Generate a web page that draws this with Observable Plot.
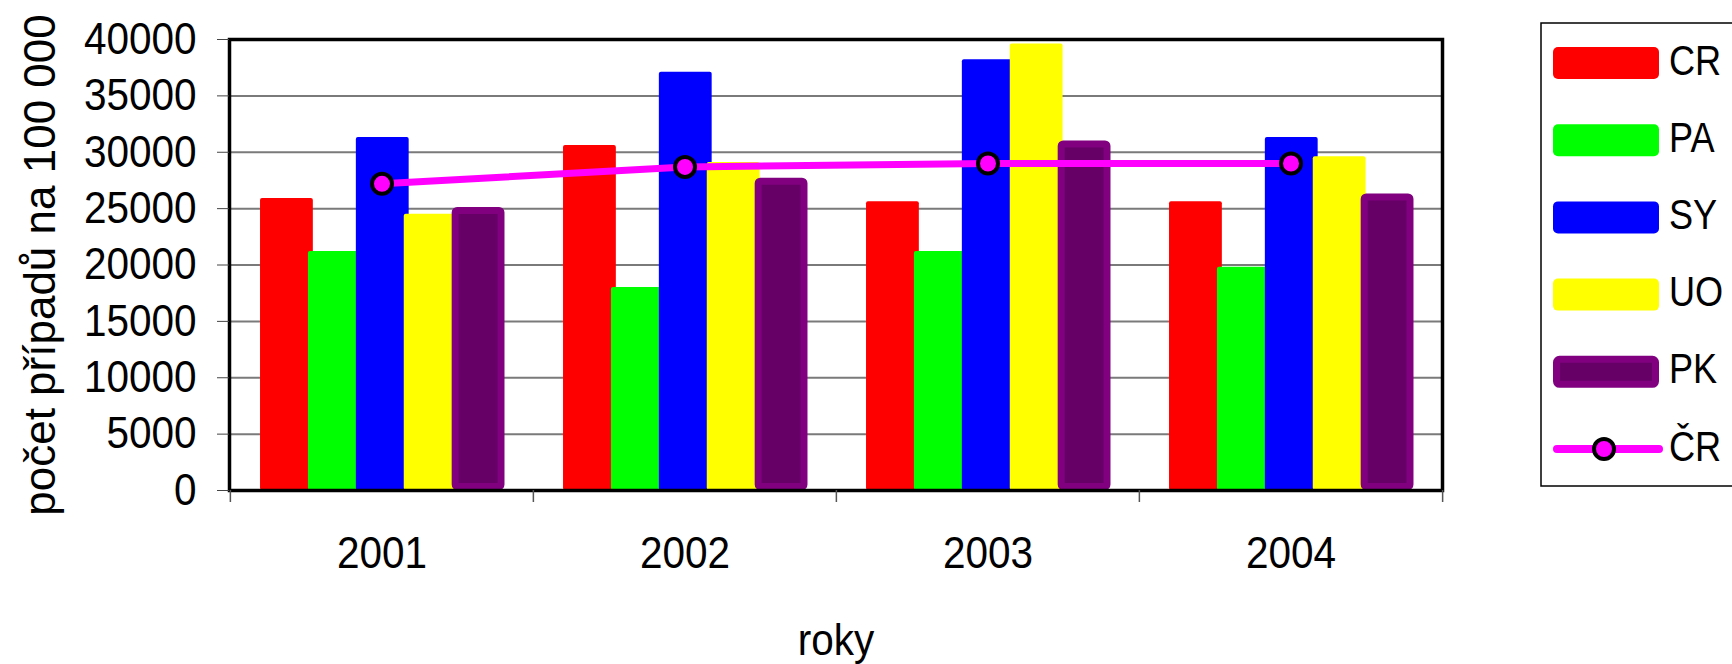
<!DOCTYPE html>
<html>
<head>
<meta charset="utf-8">
<script src="https://cdn.jsdelivr.net/npm/d3@7"></script>
<script src="https://cdn.jsdelivr.net/npm/@observablehq/plot@0.6"></script>
<style>
  html, body { margin: 0; padding: 0; background: #fff; }
  #wrap { position: relative; width: 1732px; height: 664px; overflow: hidden;
          font-family: "Liberation Sans", Arial, sans-serif; }
</style>
</head>
<body>
<div id="wrap"></div>
<script>
// ---- data ----
const years = ["2001", "2002", "2003", "2004"];
const seriesNames = ["CR", "PA", "SY", "UO", "PK"];
const CR = [25900, 30600, 25600, 25600];
const PA = [21200, 18000, 21200, 19800];
const SY = [31300, 37100, 38200, 31300];
const UO = [24500, 29100, 39600, 29600];
const PK = [25100, 27700, 31000, 26300];
const lineName = "ČR";
const CZ = [27200, 28700, 29000, 29000];
const yTicks = [0, 5000, 10000, 15000, 20000, 25000, 30000, 35000, 40000];
const yTitle = "počet případů na 100 000";
const xTitle = "roky";

// ---- styles ----
const colors = {CR: "#FF0000", PA: "#00FF00", SY: "#0000FF", UO: "#FFFF00", PK: "#660066"};
const pkStroke = "#800080";
const lineColor = "#FF00FF";

const seriesValues = {CR, PA, SY, UO, PK};
const rows = years.map((year, i) => {
  const r = {year, CZ: CZ[i]};
  for (const s of seriesNames) r[s] = seriesValues[s][i];
  return r;
});

const W = 1732, H = 664;
const mL = 229, mR = 290, mT = 39, mB = 174;
const bw = (W - mL - mR) / years.length;

const barMarks = seriesNames.map((name, k) => {
  const left = bw * 0.099 + k * bw * 0.158;
  const w = bw * 0.175;
  const isPK = name === "PK";
  const s = isPK ? 3.5 : 0;
  return Plot.barY(rows, {
    x: "year", y: name,
    fill: colors[name],
    stroke: isPK ? pkStroke : "none",
    strokeWidth: isPK ? 7 : 0,
    insetLeft: left + s,
    insetRight: bw - left - w + s,
    insetTop: s, insetBottom: s,
    rx: 2
  });
});

const plot = Plot.plot({
  width: W, height: H,
  marginLeft: mL, marginRight: mR, marginTop: mT, marginBottom: mB,
  style: {fontFamily: "'Liberation Sans', Arial, sans-serif", fontSize: "42px", color: "black", background: "white", overflow: "visible"},
  x: {type: "band", domain: years, padding: 0, label: null},
  y: {domain: [0, 40000], label: null},
  marks: [
    Plot.ruleY(yTicks.filter(t => t > 0 && t < 40000), {stroke: "#7a7a7a", strokeWidth: 2}),
    ...barMarks,
    Plot.line(rows, {x: "year", y: "CZ", stroke: lineColor, strokeWidth: 7}),
    Plot.dot(rows, {x: "year", y: "CZ", r: 10, fill: lineColor, stroke: "black", strokeWidth: 4}),
    Plot.frame({stroke: "black", strokeWidth: 3.5}),
    Plot.axisY({ticks: yTicks, tickSize: 12, tickPadding: 21, tickFormat: d3.format("d"), stroke: "#444", label: null}),
    Plot.axisX({tickSize: 0, tickPadding: 46, label: null}),
    Plot.ruleX(years, {x: d => d, y1: 0, y2: 0, insetBottom: -12, dx: -bw / 2, stroke: "#555", strokeWidth: 1.5}),
    Plot.ruleX(years.slice(-1), {x: d => d, y1: 0, y2: 0, insetBottom: -12, dx: bw / 2, stroke: "#555", strokeWidth: 1.5}),
    Plot.text([yTitle], {frameAnchor: "left", dx: -189, rotate: -90, fontSize: 44, textAnchor: "middle", lineAnchor: "middle", fill: "black"}),
    Plot.text([xTitle], {frameAnchor: "bottom", dy: 150, fontSize: 42, lineAnchor: "middle", fill: "black"})
  ]
});
document.getElementById("wrap").appendChild(plot);

// narrow, tall lettering like the reference
function squeeze(el, size, factor) {
  el.style.fontSize = size + "px";
  const L = el.getComputedTextLength();
  el.setAttribute("textLength", (L * factor).toFixed(1));
  el.setAttribute("lengthAdjust", "spacingAndGlyphs");
}
plot.querySelectorAll("text").forEach(t => {
  if (t.textContent === yTitle) return;
  squeeze(t, 44.5, 0.91);
});

// ---- legend ----
const leg = d3.select("#wrap").append("svg")
  .attr("width", W).attr("height", H)
  .style("position", "absolute").style("left", "0px").style("top", "0px")
  .style("font-family", "'Liberation Sans', Arial, sans-serif");
leg.append("rect").attr("x", 1541).attr("y", 23).attr("width", 240).attr("height", 463)
  .attr("fill", "white").attr("stroke", "black").attr("stroke-width", 1.5);
const items = [...seriesNames, lineName];
items.forEach((name, i) => {
  const cy = 63 + i * 77.2;
  if (name === lineName) {
    leg.append("line").attr("x1", 1557).attr("x2", 1659).attr("y1", cy).attr("y2", cy)
      .attr("stroke", lineColor).attr("stroke-width", 8).attr("stroke-linecap", "round");
    leg.append("circle").attr("cx", 1604).attr("cy", cy).attr("r", 10)
      .attr("fill", lineColor).attr("stroke", "black").attr("stroke-width", 4);
  } else if (name === "PK") {
    leg.append("rect").attr("x", 1556.5).attr("y", cy - 12.5).attr("width", 99).attr("height", 25)
      .attr("rx", 3).attr("fill", colors[name]).attr("stroke", pkStroke).attr("stroke-width", 7);
  } else {
    leg.append("rect").attr("x", 1553).attr("y", cy - 16).attr("width", 106).attr("height", 32)
      .attr("rx", 5).attr("fill", colors[name]);
  }
  const t = leg.append("text").attr("x", 1669).attr("y", cy - 3.5).attr("dy", "0.35em")
    .attr("fill", "black").text(name);
  squeeze(t.node(), 43, 0.84);
});
</script>
</body>
</html>
